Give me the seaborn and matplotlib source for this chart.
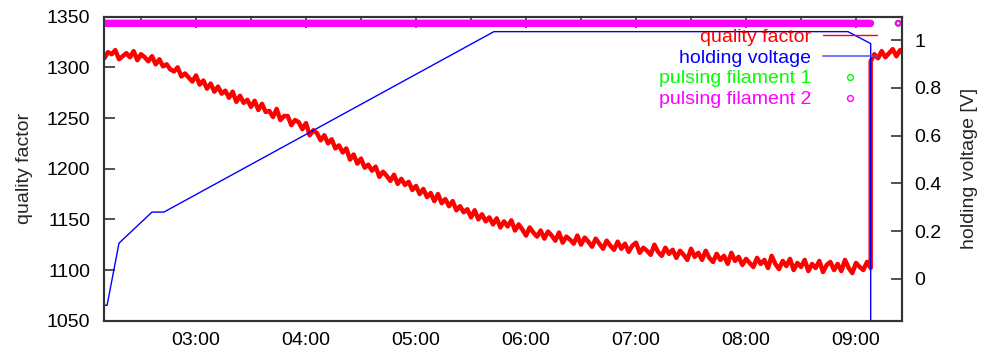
import numpy as np
import pandas as pd
import matplotlib
matplotlib.use("Agg")
import matplotlib.pyplot as plt
from matplotlib.lines import Line2D
import seaborn as sns

# ---------------- data ----------------
# quality factor sampled every 2 minutes starting 02:10
qf_start_h = 2 + 10 / 60
qf_step_min = 2
quality_main = [
    1309, 1315, 1313, 1317, 1308, 1311, 1314, 1310, 1316, 1307,
    1313, 1310, 1306, 1311, 1303, 1308, 1301, 1303, 1298, 1296,
    1300, 1291, 1294, 1290, 1286, 1292, 1283, 1287, 1279, 1284,
    1276, 1281, 1274, 1277, 1270, 1276, 1266, 1272, 1265, 1268,
    1261, 1267, 1258, 1264, 1256, 1257, 1251, 1259, 1248, 1252,
    1252, 1243, 1248, 1246, 1239, 1245, 1233, 1238, 1235, 1228,
    1233, 1225, 1229, 1220, 1223, 1216, 1220, 1209, 1214, 1205,
    1210, 1201, 1204, 1198, 1202, 1192, 1197, 1193, 1188, 1194,
    1185, 1190, 1184, 1187, 1179, 1183, 1175, 1180, 1172, 1176,
    1168, 1175, 1166, 1170, 1163, 1168, 1159, 1163, 1157, 1160,
    1152, 1159, 1150, 1155, 1148, 1152, 1145, 1151, 1142, 1148,
    1143, 1149, 1139, 1145, 1140, 1134, 1142, 1137, 1133, 1139,
    1131, 1138, 1134, 1129, 1137, 1127, 1133, 1130, 1126, 1134,
    1125, 1132, 1128, 1123, 1131, 1126, 1121, 1129, 1124, 1120,
    1128, 1121, 1126, 1118, 1124, 1127, 1117, 1122, 1119, 1115,
    1125, 1118, 1114, 1122, 1116, 1120, 1112, 1119, 1115, 1110,
    1121, 1113, 1117, 1110, 1119, 1112, 1108, 1116, 1110, 1114,
    1106, 1117, 1109, 1113, 1105, 1111, 1107, 1103, 1112, 1106,
    1110, 1102, 1114, 1106, 1101, 1109, 1104, 1111, 1100, 1107,
    1103, 1110, 1099, 1106, 1102, 1109, 1098, 1105, 1108, 1100,
    1106, 1099, 1110, 1102, 1097, 1107, 1103, 1100, 1108, 1102,
]
# after the jump (minutes after 09:00)
quality_tail_min = [8, 10, 12, 14, 16, 18, 20, 22, 24, 25.4]
quality_tail = [1306, 1313, 1309, 1316, 1310, 1314, 1318, 1311, 1317, 1314]

# holding voltage breakpoints (hh, mm) -> volts
hv_time = [(2, 10.0), (2, 11.5), (2, 18.0), (2, 36.0), (2, 42.5),
           (5, 42.5), (8, 55.6), (9, 8.0), (9, 8.0)]
hv_volts = [-0.11, -0.11, 0.15, 0.28, 0.28, 1.035, 1.035, 0.985, -0.6]

# filament pulses (minutes since midnight), marker level on voltage axis
pulse_first_min, pulse_last_min = 130, 548
pulse_extra_min = [563]
pulse_level = 1.07

xtick_hours = [3, 4, 5, 6, 7, 8, 9]
xtick_labels = ["03:00", "04:00", "05:00", "06:00", "07:00", "08:00", "09:00"]
left_ticks = [1050, 1100, 1150, 1200, 1250, 1300, 1350]
right_ticks = [0, 0.2, 0.4, 0.6, 0.8, 1]
right_labels = ["0", "0.2", "0.4", "0.6", "0.8", "1"]

# ---------------- frames ----------------
qf_t = [qf_start_h + qf_step_min * i / 60 for i in range(len(quality_main))]
qf_t += [9 + m / 60 for m in quality_tail_min]
qf_v = quality_main + quality_tail
df_q = pd.DataFrame({"t": qf_t, "q": qf_v})

df_v = pd.DataFrame({"t": [h + m / 60 for h, m in hv_time], "v": hv_volts})

pulse_min = [m / 2 for m in range(2 * pulse_first_min, 2 * pulse_last_min + 1)] + pulse_extra_min
df_p = pd.DataFrame({"t": [m / 60 for m in pulse_min],
                     "v": [pulse_level] * len(pulse_min)})

# ---------------- plot ----------------
FS = 14
sns.set_style("white")
plt.rcParams["font.family"] = ["Liberation Sans", "DejaVu Sans"]
plt.rcParams["font.size"] = FS

fig = plt.figure(figsize=(9.86, 3.52), dpi=100)
ax = fig.add_axes([104 / 986, 1 - 320.7 / 352, (902 - 104) / 986, (320.7 - 16.7) / 352])
ax2 = ax.twinx()

sns.lineplot(data=df_q, x="t", y="q", ax=ax, color="#ff0000", lw=3.2,
             estimator=None, sort=False, legend=False)

sns.lineplot(data=df_v, x="t", y="v", ax=ax2, color="#0000ff", lw=1.0,
             estimator=None, sort=False, legend=False)
sns.scatterplot(data=df_p, x="t", y="v", ax=ax2, marker="o", s=12,
                facecolors="none", edgecolor="#00ff00", linewidth=1.5, legend=False)
sns.scatterplot(data=df_p, x="t", y="v", ax=ax2, marker="o", s=12,
                facecolors="none", edgecolor="#ff00ff", linewidth=1.5, legend=False)

ax.set_xticks(xtick_hours)
ax.set_xticklabels(xtick_labels)
ax.set_xticks([h - 0.5 for h in xtick_hours], minor=True)
ax.set_yticks(left_ticks)
ax2.set_yticks(right_ticks)
ax2.set_yticklabels(right_labels)

ax.set_xlim(2.1636, 9.418)
ax.set_ylim(1050, 1350)
ax2.set_ylim(-0.1745, 1.0975)

ax.set_xlabel("")
ax.set_ylabel("quality factor", fontsize=FS, labelpad=10)
ax2.set_ylabel("holding voltage [V]", fontsize=FS, labelpad=14)

tick_col = "#333333"
ax.tick_params(axis="x", which="major", direction="in", length=8, width=1.2,
               top=True, pad=8, colors=tick_col, labelcolor="black", labelsize=FS)
ax.tick_params(axis="x", which="minor", direction="in", length=4, width=1.2,
               top=True, colors=tick_col)
ax.tick_params(axis="y", which="major", direction="in", length=8, width=1.2,
               right=False, pad=10, colors=tick_col, labelcolor="black", labelsize=FS)
ax2.tick_params(axis="y", which="major", direction="in", length=8, width=1.2,
                pad=9, colors=tick_col, labelcolor="black", labelsize=FS)
ax2.tick_params(axis="x", which="both", top=False, bottom=False)

for a in (ax, ax2):
    for s in a.spines.values():
        s.set_color(tick_col)
        s.set_linewidth(1.5)

handles = [
    Line2D([], [], color="#ff0000", lw=1.0),
    Line2D([], [], color="#5050ff", lw=1.4, alpha=0.8),
    Line2D([], [], color="#00ff00", marker="o", ls="none", ms=4.2,
           mfc="none", mew=1.0),
    Line2D([], [], color="#ff00ff", marker="o", ls="none", ms=4.2,
           mfc="none", mew=1.0),
]
labels = ["quality factor", "holding voltage", "pulsing filament 1", "pulsing filament 2"]
leg = ax2.legend(handles, labels, loc="upper right",
                 bbox_to_anchor=(877 / 986, 1 - 28 / 352),
                 bbox_transform=fig.transFigure, frameon=False,
                 markerfirst=False, handlelength=2.8, handletextpad=0.6,
                 labelspacing=0.17, borderpad=0, borderaxespad=0, fontsize=FS,
                 labelcolor=["#ff0000", "#0000ff", "#00ff00", "#ff00ff"])
for t in leg.get_texts():
    t.set_ha("right")

fig.savefig("out.png", dpi=100)
